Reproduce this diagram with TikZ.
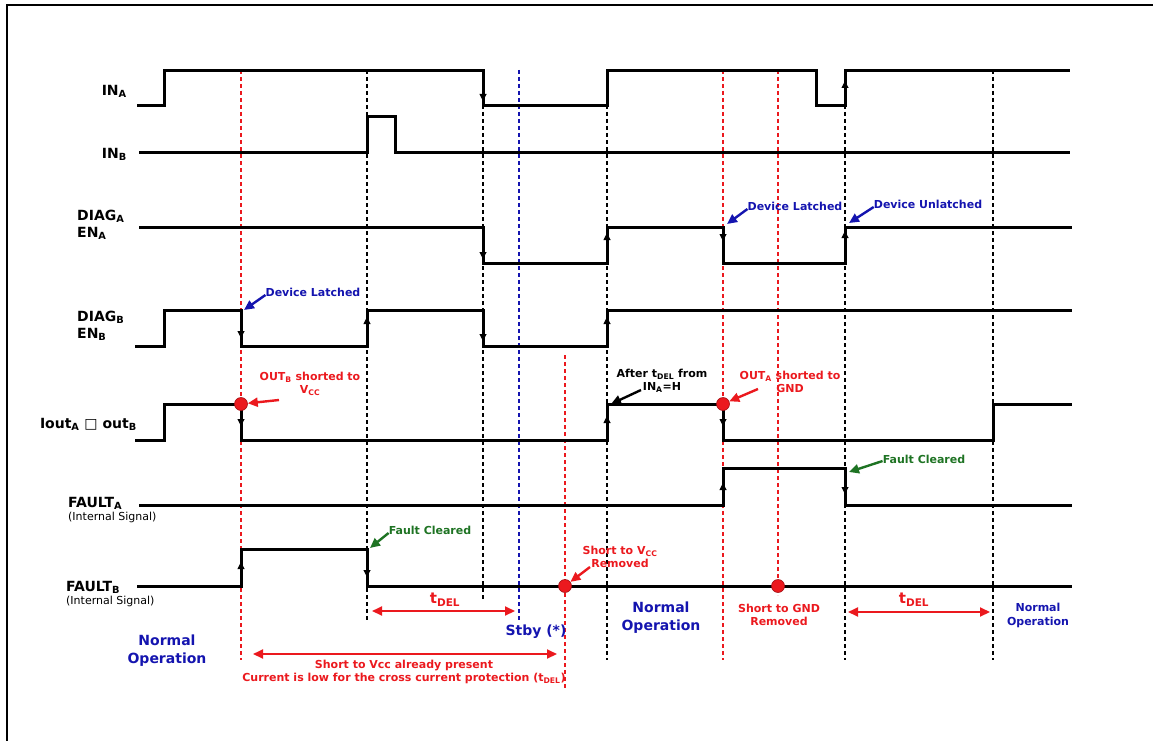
\documentclass[tikz,border=0pt]{standalone}
\usepackage{fontspec}
\setmainfont{DejaVu Sans}
\usetikzlibrary{arrows.meta}

\definecolor{shortred}{RGB}{235,25,30}
\definecolor{latchblue}{RGB}{20,20,175}
\definecolor{clrgreen}{RGB}{30,115,35}

\begin{document}
\begin{tikzpicture}[x=1pt,y=-1pt,
    wave/.style={line width=3pt},
    vmark/.style={dash pattern=on 4pt off 3pt, line width=1.4pt},
    tipmark/.style={-{Triangle[length=7pt,width=7pt]}, line width=1pt},
    sig/.style={font=\fontsize{14}{17}\selectfont\bfseries, inner sep=0pt, align=left},
    internal/.style={font=\fontsize{11}{13}\selectfont, inner sep=0pt, anchor=north west},
    note/.style={font=\fontsize{11}{13}\selectfont\bfseries, inner sep=0pt, align=center},
    opnote/.style={font=\fontsize{14}{18}\selectfont\bfseries, inner sep=0pt, align=center, latchblue},
    tdel/.style={font=\fontsize{15}{17}\selectfont\bfseries, inner sep=0pt, shortred},
    callout/.style={-{Triangle[length=10pt,width=9pt]}, line width=2.4pt},
    span/.style={{Triangle[length=10pt,width=9pt]}-{Triangle[length=10pt,width=9pt]}, line width=2pt, shortred},
    dot/.style={circle, fill=shortred, draw=shortred!70!black, line width=0.6pt, minimum size=13pt, inner sep=0pt}]
\useasboundingbox (0,0) rectangle (1153,741);
\draw[line width=2pt] (7,741) -- (7,5) -- (1153,5);

% time markers
\foreach \x/\ya/\yb/\c in {241/70/660/shortred, 367/70/620/black, 483/70/600/black,
    519/70/620/latchblue, 565/355/690/shortred, 607/70/660/black, 723/70/660/shortred,
    778/70/595/shortred, 845/70/660/black, 993/70/660/black}
  \draw[vmark,\c] (\x,\ya) -- (\x,\yb);

% signal names
\node[sig, anchor=east] (ina) at (127,91) {IN\textsubscript{A}};
\node[sig, anchor=east] (inb) at (127,154) {IN\textsubscript{B}};
\node[sig, anchor=west] (diaga) at (77,225) {DIAG\textsubscript{A}\\EN\textsubscript{A}};
\node[sig, anchor=west] (diagb) at (77,326) {DIAG\textsubscript{B}\\EN\textsubscript{B}};
\node[sig, anchor=east] (iout) at (137,424) {Iout\textsubscript{A} □ out\textsubscript{B}};
\node[sig, anchor=west] (faulta) at (68,503) {FAULT\textsubscript{A}};
\node[internal] at (68,512) {(Internal Signal)};
\node[sig, anchor=west] (faultb) at (66,587) {FAULT\textsubscript{B}};
\node[internal] at (66,596) {(Internal Signal)};

% waveforms
\draw[wave] (137,106) -- (164,106) -- (164,71) -- (483,71) -- (483,106) -- (607,106)
  -- (607,71) -- (816,71) -- (816,106) -- (845,106) -- (845,71) -- (1070,71);
\draw[wave] (139,152) -- (367,152) -- (367,117) -- (395,117) -- (395,152) -- (1070,152);
\draw[wave] (139,227) -- (483,227) -- (483,263) -- (607,263) -- (607,227) -- (723,227)
  -- (723,263) -- (845,263) -- (845,227) -- (1072,227);
\draw[wave] (135,346) -- (164,346) -- (164,310) -- (241,310) -- (241,346) -- (367,346)
  -- (367,310) -- (483,310) -- (483,346) -- (607,346) -- (607,310) -- (1072,310);
\draw[wave] (135,440) -- (164,440) -- (164,404) -- (241,404) -- (241,440) -- (607,440)
  -- (607,404) -- (723,404) -- (723,440) -- (993,440) -- (993,404) -- (1072,404);
\draw[wave] (139,505) -- (723,505) -- (723,468) -- (845,468) -- (845,505) -- (1072,505);
\draw[wave] (137,586) -- (241,586) -- (241,549) -- (367,549) -- (367,586) -- (1072,586);

% edge directions
\foreach \x/\ya/\yb in {483/82/101, 845/100/81, 483/240/259, 607/250/233, 723/228/241,
    845/250/231, 241/318/338, 367/335/317, 483/322/341, 607/335/317, 241/408/426,
    607/430/416, 723/408/426, 723/500/483, 845/476/494, 241/580/562, 367/560/577}
  \draw[tipmark] (\x,\ya) -- (\x,\yb);

% faults
\node[dot] (shortb) at (241,404) {};
\node[dot] (shorta) at (723,404) {};
\node[dot] (vccgone) at (565,586) {};
\node[dot] (gndgone) at (778,586) {};

% callouts
\node[note, latchblue] (latchb) at (313,292) {Device Latched};
\coordinate (latchbtip) at (244,310);
\draw[callout, latchblue] ([yshift=-3pt]latchb.west) -- (latchbtip);
\node[note, shortred] (outb) at (310,384) {OUT\textsubscript{B} shorted to\\V\textsubscript{CC}};
\draw[callout, shortred] (279,400) -- (shortb);
\node[note] (after) at (662,381) {After t\textsubscript{DEL} from\\IN\textsubscript{A}=H};
\coordinate (aftertip) at (611,404);
\draw[callout] (641,390) -- (aftertip);
\node[note, shortred] (outa) at (790,382) {OUT\textsubscript{A} shorted to\\GND};
\draw[callout, shortred] (758,389) -- (shorta);
\node[note, latchblue] (latcha) at (795,206) {Device Latched};
\coordinate (latchatip) at (727,224);
\draw[callout, latchblue] ([yshift=-3pt]latcha.west) -- (latchatip);
\node[note, latchblue] (unlatch) at (928,204) {Device Unlatched};
\coordinate (unlatchtip) at (849,223);
\draw[callout, latchblue] ([yshift=-3pt]unlatch.west) -- (unlatchtip);
\node[note, clrgreen] (cleara) at (924,459) {Fault Cleared};
\coordinate (clearatip) at (849,472);
\draw[callout, clrgreen] ([yshift=-2pt]cleara.west) -- (clearatip);
\node[note, clrgreen] (clearb) at (430,530) {Fault Cleared};
\coordinate (clearbtip) at (370,548);
\draw[callout, clrgreen] ([yshift=-3pt]clearb.west) -- (clearbtip);
\node[note, shortred] (vccnote) at (620,557) {Short to V\textsubscript{CC}\\Removed};
\draw[callout, shortred] (590,567) -- (vccgone);
\node[note, shortred] (gndnote) at (779,615) {Short to GND\\Removed};

% intervals
\coordinate (dela) at (372,611);
\coordinate (delb) at (515,611);
\draw[span] (dela) -- (delb);
\node[tdel] (tdela) at (445,600) {t\textsubscript{DEL}};
\node[note, font=\fontsize{14}{17}\selectfont\bfseries, latchblue] (stby) at (536,632) {Stby (*)};
\coordinate (delc) at (848,612);
\coordinate (deld) at (990,612);
\draw[span] (delc) -- (deld);
\node[tdel] (tdelb) at (914,600) {t\textsubscript{DEL}};
\coordinate (vcca) at (253,654);
\coordinate (vccb) at (557,654);
\draw[span] (vcca) -- (vccb);
\node[note, shortred] (present) at (404,672) {Short to Vcc already present\\Current is low for the cross current protection (t\textsubscript{DEL})};

% operating states
\node[opnote] (norma) at (167,651) {Normal\\Operation};
\node[opnote] (normb) at (661,618) {Normal\\Operation};
\node[opnote, font=\fontsize{11}{14}\selectfont\bfseries] (normc) at (1038,615) {Normal\\Operation};
\end{tikzpicture}
\end{document}
